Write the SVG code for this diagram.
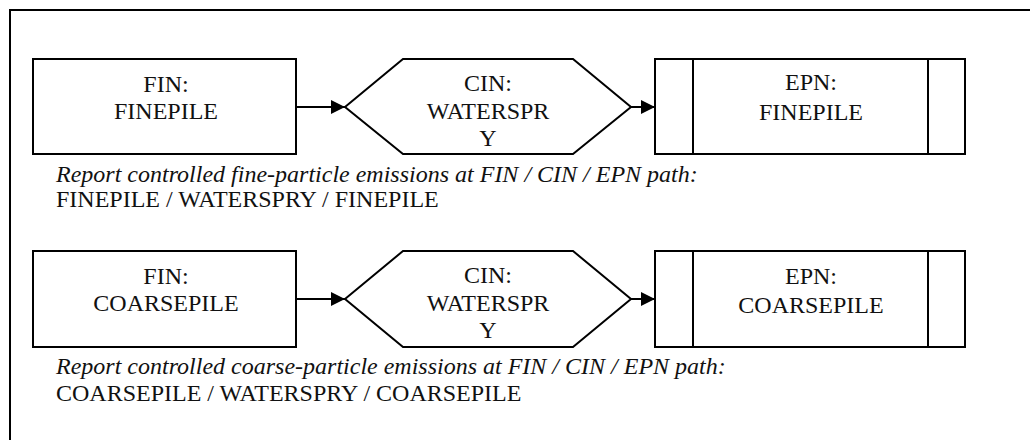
<svg xmlns="http://www.w3.org/2000/svg" width="1030" height="440" viewBox="0 0 1030 440">
<defs>
<style>
.shape{fill:#fff;stroke:#000;stroke-width:2}
.line{fill:none;stroke:#000;stroke-width:2}
text{font-family:"Liberation Serif","Times New Roman",serif;font-size:24px;fill:#111}
.c{text-anchor:middle}
.i{font-style:italic}
</style>
<marker id="arr" viewBox="0 0 14 14" refX="14" refY="7" markerWidth="14" markerHeight="14" markerUnits="userSpaceOnUse" orient="auto">
<path d="M0,0 L14,7 L0,14 Z" fill="#000"/>
</marker>
</defs>
<rect width="1030" height="440" fill="#fff"/>
<path class="line" d="M10,440 V10 H1030"/>

<g id="fin1">
<rect class="shape" x="33" y="59" width="263" height="95"/>
<text class="c" x="166" y="92">FIN:</text>
<text class="c" x="166" y="119">FINEPILE</text>
</g>
<g id="cin1">
<polygon class="shape" points="345,107 403,59 573,59 631,107 573,154 403,154"/>
<text class="c" x="488" y="91">CIN:</text>
<text class="c" x="488" y="119">WATERSPR</text>
<text class="c" x="488" y="146">Y</text>
</g>
<g id="epn1">
<rect class="shape" x="655" y="59" width="310" height="95"/>
<line class="line" x1="693" y1="59" x2="693" y2="154"/>
<line class="line" x1="928" y1="59" x2="928" y2="154"/>
<text class="c" x="811" y="90">EPN:</text>
<text class="c" x="811" y="120">FINEPILE</text>
</g>
<g id="note1">
<text class="i" x="56" y="182">Report controlled fine-particle emissions at FIN / CIN / EPN path:</text>
<text x="56" y="207">FINEPILE / WATERSPRY / FINEPILE</text>
</g>

<g id="fin2">
<rect class="shape" x="33" y="251" width="263" height="96"/>
<text class="c" x="166" y="284">FIN:</text>
<text class="c" x="166" y="311">COARSEPILE</text>
</g>
<g id="cin2">
<polygon class="shape" points="345,299 403,251 573,251 631,299 573,347 403,347"/>
<text class="c" x="488" y="283">CIN:</text>
<text class="c" x="488" y="311">WATERSPR</text>
<text class="c" x="488" y="338">Y</text>
</g>
<g id="epn2">
<rect class="shape" x="655" y="251" width="310" height="96"/>
<line class="line" x1="693" y1="251" x2="693" y2="347"/>
<line class="line" x1="928" y1="251" x2="928" y2="347"/>
<text class="c" x="811" y="284">EPN:</text>
<text class="c" x="811" y="313">COARSEPILE</text>
</g>
<g id="note2">
<text class="i" x="56" y="374">Report controlled coarse-particle emissions at FIN / CIN / EPN path:</text>
<text x="56" y="401">COARSEPILE / WATERSPRY / COARSEPILE</text>
</g>

<g id="connectors">
<line class="line" x1="296" y1="107" x2="345" y2="107" marker-end="url(#arr)"/>
<line class="line" x1="631" y1="107" x2="655" y2="107" marker-end="url(#arr)"/>
<line class="line" x1="296" y1="299" x2="345" y2="299" marker-end="url(#arr)"/>
<line class="line" x1="631" y1="299" x2="655" y2="299" marker-end="url(#arr)"/>
</g>
</svg>
